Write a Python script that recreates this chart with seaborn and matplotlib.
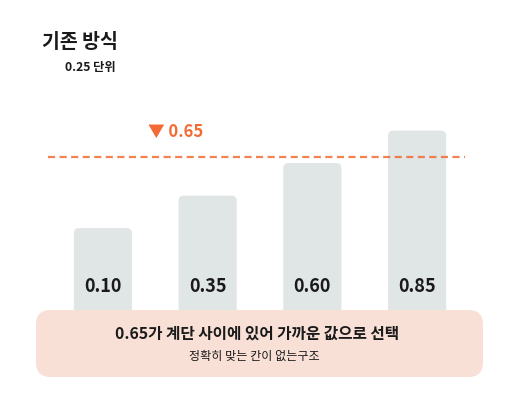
import numpy as np
import pandas as pd
import matplotlib
matplotlib.use('Agg')
import matplotlib.pyplot as plt
import matplotlib.transforms as mtransforms
from matplotlib.patches import FancyBboxPatch
import seaborn as sns

# Data
steps = ['0.10', '0.35', '0.60', '0.85']
step_values = [0.10, 0.35, 0.60, 0.85]
target_value = 0.65
target_label = '▼ 0.65'
title = '기존 방식'
subtitle = '0.25 단위'
note_main = '0.65가 계단 사이에 있어 가까운 값으로 선택'
note_sub = '정확히 맞는 칸이 없는구조'

# Axis floor (the bars start below the visible area, hidden by the note box)
FLOOR = -0.676
CEIL = 1.093

BAR_COLOR = '#E0E5E5'
ORANGE = '#F26B35'
BOX_COLOR = '#F9E0D7'
TEXT_COLOR = '#1A1A1A'

sns.set_theme(style='white')
plt.rcParams['font.family'] = ['Noto Sans CJK KR', 'DejaVu Sans']

W, H = 518, 410
fig = plt.figure(figsize=(W / 100, H / 100), dpi=100)
fig.patch.set_facecolor('white')

# axes: x 50.5..469.5 px, y 100..330 px (from top)
ax = fig.add_axes([50.5 / W, (H - 330) / H, 419 / W, 230 / H])

df = pd.DataFrame({'step': steps, 'height': [v - FLOOR for v in step_values]})
sns.barplot(data=df, x='step', y='height', color=BAR_COLOR, width=0.555,
            saturation=1, ax=ax)

ax.set_xlim(-0.5, 3.5)
ax.set_ylim(0, CEIL - FLOOR)

# swap plain rectangles for ones with softly rounded corners
for bar in list(ax.patches):
    x0, y0 = bar.get_x(), bar.get_y()
    w, h = bar.get_width(), bar.get_height()
    bar.set_visible(False)
    ax.add_patch(FancyBboxPatch((x0, y0), w, h,
                                boxstyle='round,pad=0,rounding_size=0.05',
                                mutation_aspect=0.8,
                                facecolor=BAR_COLOR, edgecolor='none', zorder=1))

# value labels inside the bars
trans = mtransforms.blended_transform_factory(ax.transData, ax.transAxes)
for i, lab in enumerate(steps):
    ax.text(i, 0.187, lab, transform=trans, ha='center', va='center',
            fontsize=13, fontweight='bold', color=TEXT_COLOR, zorder=3)

# target dashed line
ax.axhline(target_value - FLOOR, xmin=-0.006, xmax=0.99, color=ORANGE,
           alpha=0.85, lw=1.6, ls=(0, (3.2, 2.0)), zorder=2, clip_on=False)
ax.text(0.43, target_value - FLOOR + 0.2, target_label, ha='left',
        va='center', fontsize=12, fontweight='bold', color=ORANGE)

ax.set_xlabel('')
ax.set_ylabel('')
ax.set_xticks([])
ax.set_yticks([])
sns.despine(ax=ax, left=True, bottom=True)

# titles
fig.text(42 / W, 1 - 43 / H, title, ha='left', va='center',
         fontsize=14, fontweight='bold', color=TEXT_COLOR)
fig.text(65 / W, 1 - 67 / H, subtitle, ha='left', va='center',
         fontsize=8.8, fontweight='bold', color=TEXT_COLOR)

# note box
box = FancyBboxPatch((36 / W, 1 - 378 / H), 447 / W, 67 / H,
                     boxstyle='round,pad=0,rounding_size=0.028',
                     mutation_aspect=W / H,
                     transform=fig.transFigure, facecolor=BOX_COLOR,
                     edgecolor='none', zorder=5)
fig.patches.append(box)
fig.text(257 / W, 1 - 334 / H, note_main, ha='center', va='center',
         fontsize=11.3, fontweight='bold', color=TEXT_COLOR, zorder=6)
fig.text(254 / W, 1 - 356 / H, note_sub, ha='center', va='center',
         fontsize=8.7, fontweight='medium', color=TEXT_COLOR, zorder=6)

fig.savefig('out.png', dpi=100)
